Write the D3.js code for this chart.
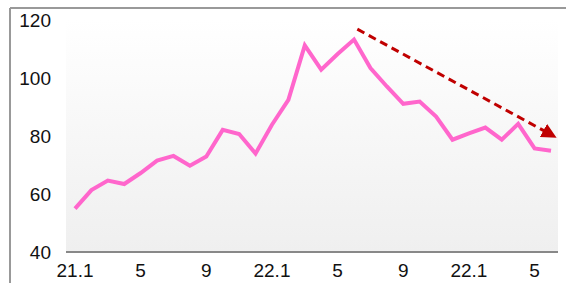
<!DOCTYPE html>
<style>
body { margin: 0; background: #fff; }
text { font-family: "Liberation Sans", Arial, sans-serif; font-size: 19px; fill: #111; }
</style>
<svg id="chart" width="566" height="283"></svg>
<script src="https://cdn.jsdelivr.net/npm/d3@7"></script>
<script>
// monthly values, 21.1 onwards
var values = [55, 61.4, 64.7, 63.5, 67.3, 71.6, 73.2, 69.8, 73, 82.2,
              80.8, 74, 84, 92.6, 111.4, 103, 108.4, 113.4, 103.6, 97.2,
              91.2, 92, 86.8, 78.8, 81, 83, 78.8, 84.3, 75.8, 75];
var tickIdx = [0, 4, 8, 12, 16, 20, 24, 28];
var tickLabels = ["21.1", "5", "9", "22.1", "5", "9", "22.1", "5"];
var yTicks = [40, 60, 80, 100, 120];
// trend arrow, start and end in (index, value)
var trend = [[17.2, 117], [28.7, 81.5]];

var svg = d3.select("#chart");

var x = d3.scaleLinear().domain([0, values.length - 1]).range([75, 551]);
var y = d3.scaleLinear().domain([40, 120]).range([252, 20.5]);

// frame
svg.append("line").attr("x1", 10).attr("x2", 10).attr("y1", 8).attr("y2", 283)
  .attr("stroke", "#999").attr("stroke-width", 2);
svg.append("line").attr("x1", 10).attr("x2", 566).attr("y1", 8).attr("y2", 8)
  .attr("stroke", "#999").attr("stroke-width", 2);

var defs = svg.append("defs");
var grad = defs.append("linearGradient").attr("id", "bg")
  .attr("x1", 0).attr("x2", 0).attr("y1", 0).attr("y2", 1);
grad.append("stop").attr("offset", "0%").attr("stop-color", "#ffffff");
grad.append("stop").attr("offset", "100%").attr("stop-color", "#efefef");

defs.append("marker").attr("id", "head")
  .attr("viewBox", "0 0 10 10").attr("refX", 2).attr("refY", 5)
  .attr("markerWidth", 5).attr("markerHeight", 5)
  .attr("markerUnits", "strokeWidth").attr("orient", "auto")
  .append("path").attr("d", "M0,0 L10,5 L0,10 z").attr("fill", "#c00000");

// plot area
svg.append("rect").attr("x", 66).attr("y", 20).attr("width", 492).attr("height", 232)
  .attr("fill", "url(#bg)");

svg.append("line").attr("x1", 66).attr("x2", 558).attr("y1", 252).attr("y2", 252)
  .attr("stroke", "#888").attr("stroke-width", 2);

// y labels
svg.append("g").selectAll("text").data(yTicks).enter().append("text")
  .attr("x", 51).attr("y", function(d) { return y(d); })
  .attr("dy", "0.36em").attr("text-anchor", "end")
  .text(function(d) { return d; });

// x labels
svg.append("g").selectAll("text").data(tickIdx).enter().append("text")
  .attr("x", function(d) { return x(d); }).attr("y", 277)
  .attr("text-anchor", "middle")
  .text(function(d, i) { return tickLabels[i]; });

var line = d3.line()
  .x(function(d, i) { return x(i); })
  .y(function(d) { return y(d); });

svg.append("path").datum(values)
  .attr("d", line)
  .attr("fill", "none").attr("stroke", "#ff66cc").attr("stroke-width", 4)
  .attr("stroke-linejoin", "miter");

svg.append("line")
  .attr("x1", x(trend[0][0])).attr("y1", y(trend[0][1]))
  .attr("x2", x(trend[1][0])).attr("y2", y(trend[1][1]))
  .attr("stroke", "#c00000").attr("stroke-width", 3)
  .attr("stroke-dasharray", "8,5")
  .attr("marker-end", "url(#head)");
</script>
